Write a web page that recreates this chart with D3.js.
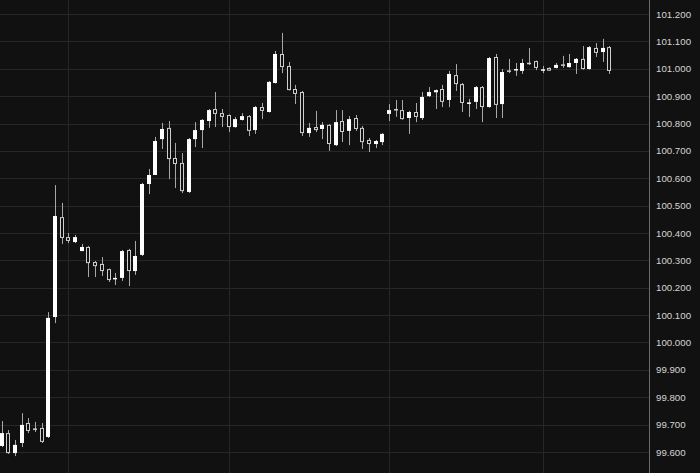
<!DOCTYPE html>
<html>
<head>
<meta charset="utf-8">
<script src="https://cdn.jsdelivr.net/npm/d3@7"></script>
<style>
html,body{margin:0;padding:0;background:#111111;overflow:hidden;}
svg{display:block;}
</style>
</head>
<body>
<svg id="chart" width="700" height="473"></svg>
<script>
const openP  = [99.622,99.669,99.596,99.633,99.706,99.686,99.688,99.655,100.093,100.458,100.385,100.367,100.334,100.349,100.294,100.287,100.268,100.233,100.236,100.338,100.261,100.320,100.579,100.612,100.743,100.784,100.674,100.656,100.550,100.743,100.776,100.809,100.853,100.838,100.831,100.787,100.813,100.827,100.776,100.860,100.842,100.948,101.054,101.010,100.926,100.915,100.765,100.787,100.780,100.795,100.721,100.809,100.773,100.820,100.784,100.740,100.725,100.732,100.835,100.853,100.849,100.820,100.842,100.820,100.900,100.914,100.926,100.886,100.977,100.944,100.876,100.879,100.933,100.860,101.043,100.871,100.994,100.998,100.992,101.022,101.028,100.997,101.003,101.003,101.016,101.006,101.021,101.036,100.999,101.076,101.061,101.079];
const highP  = [99.713,99.680,99.644,99.742,99.724,99.710,99.706,100.111,100.575,100.510,100.400,100.393,100.360,100.352,100.298,100.312,100.270,100.254,100.338,100.342,100.371,100.583,100.634,100.751,100.802,100.809,100.729,100.692,100.747,100.805,100.816,100.853,100.915,100.853,100.833,100.824,100.838,100.831,100.864,100.875,100.955,101.065,101.131,101.025,100.941,100.919,100.802,100.846,100.805,100.798,100.849,100.849,100.827,100.831,100.791,100.747,100.740,100.765,100.871,100.886,100.886,100.846,100.875,100.915,100.933,100.924,100.941,100.992,101.017,100.948,100.890,100.937,100.937,101.043,101.054,100.999,101.036,101.021,101.036,101.076,101.030,101.010,101.005,101.021,101.047,101.054,101.039,101.083,101.083,101.094,101.109,101.083];
const lowP   = [99.618,99.593,99.585,99.618,99.669,99.673,99.633,99.651,100.071,100.360,100.363,100.363,100.334,100.239,100.239,100.243,100.221,100.210,100.225,100.206,100.247,100.316,100.542,100.612,100.707,100.597,100.564,100.546,100.546,100.714,100.710,100.784,100.787,100.787,100.769,100.785,100.811,100.754,100.762,100.816,100.840,100.946,100.984,100.921,100.871,100.754,100.751,100.769,100.743,100.700,100.718,100.732,100.721,100.773,100.707,100.696,100.710,100.721,100.809,100.824,100.814,100.762,100.805,100.813,100.897,100.853,100.860,100.860,100.919,100.842,100.824,100.853,100.805,100.858,100.820,100.820,100.984,100.974,100.981,101.014,100.995,100.984,100.992,101.001,101.003,101.004,100.981,100.997,100.997,101.043,101.025,100.981];
const closeP = [99.669,99.596,99.626,99.699,99.677,99.682,99.637,100.090,100.462,100.382,100.371,100.385,100.349,100.290,100.279,100.261,100.228,100.236,100.334,100.261,100.316,100.579,100.612,100.736,100.780,100.670,100.652,100.553,100.743,100.776,100.813,100.849,100.835,100.824,100.787,100.816,100.827,100.773,100.860,100.846,100.952,101.054,101.006,100.922,100.908,100.765,100.784,100.776,100.795,100.725,100.805,100.769,100.816,100.780,100.732,100.725,100.736,100.762,100.849,100.851,100.816,100.842,100.824,100.897,100.915,100.922,100.879,100.981,100.944,100.875,100.877,100.933,100.860,101.039,100.868,100.988,100.992,100.999,101.021,101.020,101.003,100.998,100.993,101.014,101.014,101.021,101.036,100.999,101.079,101.058,101.076,100.992];
const timeGridIdx = [10, 34, 58, 81];
const yTicks = [99.6,99.7,99.8,99.9,100.0,100.1,100.2,100.3,100.4,100.5,100.6,100.7,100.8,100.9,101.0,101.1,101.2];

const W = 700, H = 473, axisX = 649;
const svg = d3.select("#chart");
svg.append("rect").attr("width", W).attr("height", H).attr("fill", "#111111");

const n = openP.length;
const x = d3.scaleLinear().domain([0, n - 1]).range([1.7, 609.3]);
const y = d3.scaleLinear().domain([99.6, 101.2]).range([452, 14]);
const step = x(1) - x(0);
const bw = Math.max(3, Math.round(step * 0.65));

const data = d3.range(n).map(i => ({i, o: openP[i], h: highP[i], l: lowP[i], c: closeP[i]}));

// grid
const grid = svg.append("g");
grid.selectAll("line.h").data(yTicks).join("line")
  .attr("x1", 0).attr("x2", axisX)
  .attr("y1", d => Math.round(y(d)) + 0.5).attr("y2", d => Math.round(y(d)) + 0.5)
  .attr("stroke", "#272727").attr("stroke-width", 1);
grid.selectAll("line.v").data(timeGridIdx).join("line")
  .attr("x1", d => Math.round(x(d)) + 0.5).attr("x2", d => Math.round(x(d)) + 0.5)
  .attr("y1", 0).attr("y2", H)
  .attr("stroke", "#272727").attr("stroke-width", 1);

// candles
const g = svg.append("g");
const cx = d => Math.round(x(d.i));
g.selectAll("line.wick").data(data).join("line")
  .attr("x1", d => cx(d) + 0.5).attr("x2", d => cx(d) + 0.5)
  .attr("y1", d => y(d.h)).attr("y2", d => y(d.l))
  .attr("stroke", "#a8a8a8").attr("stroke-width", 1);

const up = data.filter(d => d.c >= d.o);
const dn = data.filter(d => d.c < d.o);

g.selectAll("rect.up").data(up).join("rect")
  .attr("x", d => cx(d) - Math.floor(bw / 2))
  .attr("width", bw)
  .attr("y", d => y(Math.max(d.o, d.c)))
  .attr("height", d => Math.max(1.5, Math.abs(y(d.o) - y(d.c))))
  .attr("fill", "#ffffff");

g.selectAll("rect.dn").data(dn).join("rect")
  .attr("x", d => cx(d) - Math.floor(bw / 2) + 0.5)
  .attr("width", bw - 1)
  .attr("y", d => y(d.o) + 0.5)
  .attr("height", d => Math.max(0.5, Math.abs(y(d.o) - y(d.c)) - 1))
  .attr("fill", "#111111")
  .attr("stroke", "#cfcfcf").attr("stroke-width", 1);

// axis
svg.append("line")
  .attr("x1", axisX + 0.5).attr("x2", axisX + 0.5).attr("y1", 0).attr("y2", H)
  .attr("stroke", "#6a6a6a").attr("stroke-width", 1);

const axis = d3.axisRight(y).tickValues(yTicks).tickFormat(d3.format(".3f")).tickSize(0).tickPadding(7);
const ag = svg.append("g").attr("transform", `translate(${axisX},0)`).call(axis);
ag.select(".domain").remove();
ag.selectAll("text")
  .attr("fill", "#d4d4d4")
  .style("font-family", "'Liberation Sans', Arial, sans-serif")
  .style("font-size", "9.7px");
</script>
</body>
</html>
